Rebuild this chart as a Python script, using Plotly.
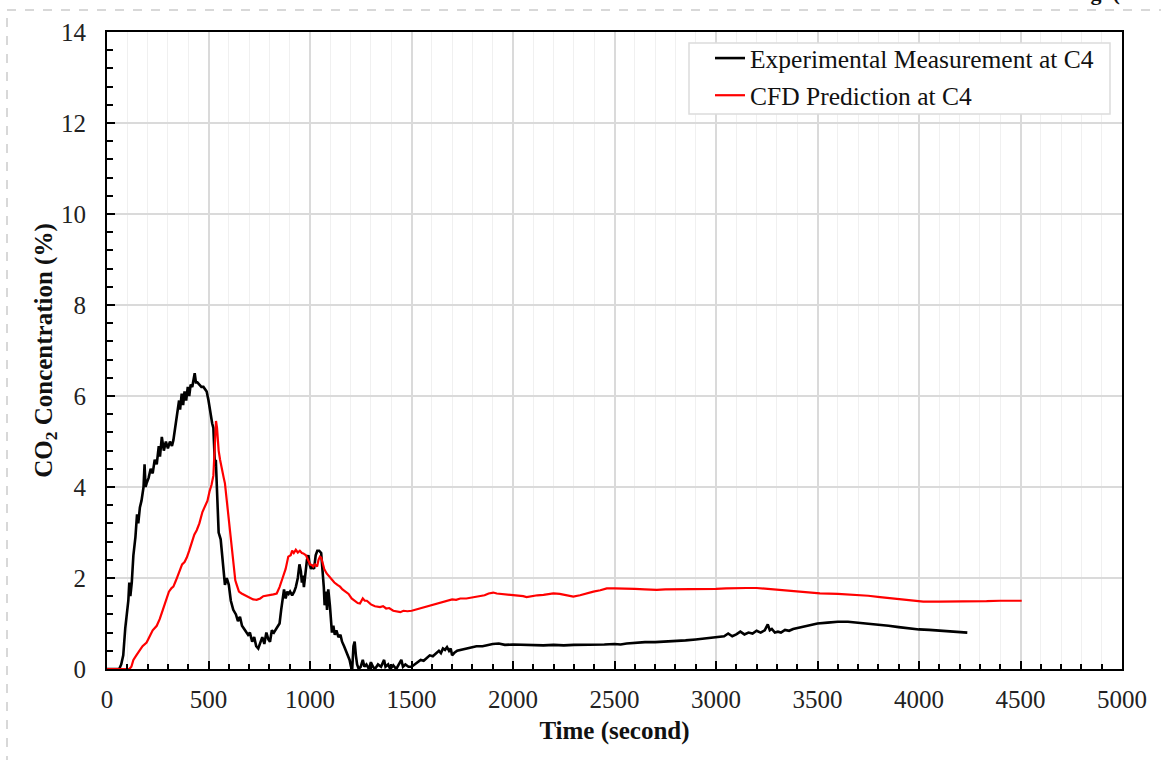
import plotly.graph_objects as go

# Experimental CO2 concentration at sensor C4 (time in s, concentration in %)
exp_time = [0, 60, 70, 80, 90, 97, 105, 110, 115, 122, 130, 140, 148, 154, 162, 170, 180, 185, 190, 195,
            205, 215, 225, 235, 245, 255, 261, 270, 280, 290, 300, 310, 320, 327, 335, 345, 355, 360, 368, 375,
            382, 390, 398, 405, 412, 420, 428, 432, 438, 445, 455, 465, 475, 485, 491, 500, 510, 518, 524, 528,
            532, 536, 540, 545, 550, 560, 568, 575, 581, 590, 600, 610, 622, 635, 645, 655, 665, 680, 695, 704,
            715, 725, 735, 745, 754, 765, 775, 785, 795, 803, 812, 822, 836, 850, 858, 865, 872, 880, 888, 895,
            902, 912, 922, 930, 940, 948, 955, 960, 965, 970, 978, 985, 992, 998, 1005, 1012, 1020, 1028, 1036, 1045,
            1055, 1062, 1068, 1072, 1078, 1084, 1090, 1098, 1104, 1108, 1115, 1122, 1130, 1140, 1150, 1158, 1168, 1178, 1188, 1195,
            1202, 1208, 1214, 1220, 1226, 1232, 1240, 1250, 1260, 1268, 1278, 1290, 1300, 1310, 1320, 1335, 1350, 1365, 1372, 1385,
            1395, 1410, 1425, 1438, 1450, 1458, 1470, 1485, 1500, 1515, 1530, 1545, 1560, 1575, 1590, 1605, 1620, 1635, 1645, 1655,
            1665, 1675, 1685, 1693, 1700, 1710, 1725, 1745, 1765, 1790, 1820, 1850, 1880, 1900, 1930, 1960, 2000, 2050, 2100, 2150,
            2200, 2250, 2300, 2350, 2400, 2450, 2500, 2530, 2560, 2600, 2650, 2700, 2750, 2800, 2850, 2900, 2950, 3000, 3040, 3060,
            3080, 3100, 3120, 3140, 3160, 3180, 3200, 3220, 3240, 3255, 3265, 3275, 3290, 3305, 3320, 3340, 3360, 3380, 3400, 3450,
            3500, 3550, 3600, 3650, 3700, 3750, 3800, 3850, 3900, 3950, 4000, 4050, 4100, 4150, 4200, 4238]
exp_conc = [0, 0, 0.1, 0.3, 0.9, 1.15, 1.5, 1.9, 1.6, 1.9, 2.5, 2.9, 3.4, 3.2, 3.55, 3.7, 4.0, 4.5, 4.0, 4.08,
            4.2, 4.4, 4.3, 4.6, 4.5, 4.9, 4.67, 5.1, 4.8, 5.0, 4.85, 5.0, 4.9, 5.03, 5.3, 5.6, 5.9, 5.7, 6.05, 5.8,
            6.1, 5.9, 6.2, 6.0, 6.25, 6.2, 6.4, 6.5, 6.3, 6.3, 6.25, 6.2, 6.2, 6.15, 6.1, 5.9, 5.6, 5.4, 5.3, 4.9,
            4.45, 4.6, 4.2, 3.6, 3.0, 2.85, 2.5, 2.1, 1.85, 2.0, 1.85, 1.5, 1.3, 1.2, 1.05, 1.15, 0.95, 0.85, 0.75, 0.8,
            0.6, 0.7, 0.5, 0.45, 0.55, 0.7, 0.55, 0.8, 0.65, 0.6, 0.85, 0.8, 0.9, 1.0, 1.3, 1.6, 1.75, 1.55, 1.7, 1.65,
            1.7, 1.62, 1.7, 1.8, 2.0, 2.3, 2.15, 1.9, 2.05, 1.8, 2.2, 2.4, 2.5, 2.3, 2.2, 2.25, 2.2, 2.5, 2.6, 2.6,
            2.55, 2.2, 1.8, 1.4, 1.7, 1.3, 1.75, 1.4, 1.1, 0.8, 0.95, 0.75, 0.85, 0.7, 0.75, 0.6, 0.5, 0.4, 0.3, 0.2,
            0.05, 0.0, 0.5, 0.6, 0.3, 0.1, 0.0, 0.05, 0.2, 0.05, 0.1, 0.0, 0.15, 0.05, 0.0, 0.1, 0.05, 0.2, 0.05, 0.1,
            0.0, 0.08, 0.0, 0.1, 0.2, 0.05, 0.1, 0.05, 0.05, 0.1, 0.15, 0.2, 0.18, 0.25, 0.3, 0.28, 0.35, 0.4, 0.35, 0.45,
            0.42, 0.48, 0.4, 0.45, 0.3, 0.35, 0.4, 0.42, 0.45, 0.47, 0.5, 0.5, 0.53, 0.55, 0.56, 0.53, 0.54, 0.53, 0.53, 0.52,
            0.53, 0.52, 0.53, 0.53, 0.53, 0.54, 0.55, 0.54, 0.56, 0.58, 0.59, 0.59, 0.6, 0.61, 0.63, 0.65, 0.67, 0.70, 0.72, 0.78,
            0.72, 0.76, 0.82, 0.76, 0.8, 0.78, 0.84, 0.8, 0.85, 0.98, 0.85, 0.88, 0.8, 0.82, 0.8, 0.86, 0.84, 0.88, 0.9, 0.95,
            1.0, 1.02, 1.04, 1.04, 1.02, 1.0, 0.97, 0.95, 0.92, 0.89, 0.87, 0.86, 0.84, 0.83, 0.81, 0.8]

# CFD prediction at sensor C4
cfd_time = [0, 110, 120, 130, 146, 160, 175, 195, 210, 225, 245, 260, 275, 290, 305, 318, 327, 340, 355, 370,
            382, 393, 405, 418, 430, 442, 455, 470, 485, 495, 505, 515, 524, 530, 537, 542, 550, 557, 565, 575,
            581, 590, 598, 606, 615, 625, 632, 639, 650, 663, 680, 700, 720, 737, 755, 770, 787, 805, 820, 836,
            850, 865, 880, 893, 905, 912, 920, 930, 940, 950, 960, 967, 980, 990, 1000, 1010, 1016, 1025, 1035, 1042,
            1049, 1055, 1062, 1070, 1082, 1100, 1120, 1135, 1148, 1160, 1175, 1190, 1205, 1220, 1235, 1246, 1260, 1270, 1280, 1300,
            1320, 1345, 1360, 1375, 1390, 1410, 1427, 1445, 1460, 1480, 1501, 1525, 1550, 1575, 1600, 1625, 1650, 1675, 1700, 1720,
            1740, 1770, 1800, 1837, 1860, 1880, 1903, 1920, 1945, 1970, 2002, 2030, 2050, 2067, 2090, 2120, 2150, 2175, 2199, 2230,
            2260, 2297, 2330, 2360, 2396, 2430, 2462, 2500, 2550, 2600, 2650, 2708, 2750, 2800, 2850, 2900, 2954, 3000, 3050, 3100,
            3150, 3200, 3250, 3315, 3400, 3512, 3600, 3693, 3750, 3808, 3900, 3972, 4021, 4100, 4200, 4300, 4333, 4400, 4506]
cfd_conc = [0, 0, 0.05, 0.2, 0.31, 0.4, 0.5, 0.58, 0.7, 0.85, 0.95, 1.1, 1.3, 1.5, 1.7, 1.78, 1.81, 1.95, 2.15, 2.3,
            2.35, 2.45, 2.6, 2.8, 2.95, 3.05, 3.2, 3.45, 3.6, 3.7, 3.9, 4.05, 4.25, 4.8, 5.45, 5.3, 4.8, 4.6, 4.45, 4.2,
            4.08, 3.7, 3.3, 3.05, 2.6, 2.2, 1.95, 1.85, 1.7, 1.66, 1.62, 1.58, 1.53, 1.52, 1.55, 1.6, 1.61, 1.63, 1.64, 1.66,
            1.8, 2.0, 2.2, 2.47, 2.5, 2.6, 2.55, 2.62, 2.56, 2.6, 2.55, 2.54, 2.5, 2.4, 2.3, 2.28, 2.25, 2.3, 2.25, 2.4,
            2.47, 2.45, 2.3, 2.2, 2.1, 2.0, 1.9, 1.85, 1.81, 1.75, 1.7, 1.65, 1.55, 1.5, 1.45, 1.44, 1.55, 1.5, 1.5, 1.42,
            1.38, 1.36, 1.38, 1.33, 1.34, 1.28, 1.26, 1.25, 1.28, 1.27, 1.28, 1.31, 1.33, 1.36, 1.4, 1.43, 1.46, 1.5, 1.53, 1.52,
            1.55, 1.55, 1.57, 1.59, 1.62, 1.66, 1.68, 1.66, 1.65, 1.64, 1.63, 1.62, 1.6, 1.58, 1.6, 1.62, 1.63, 1.64, 1.66, 1.65,
            1.62, 1.59, 1.62, 1.66, 1.70, 1.73, 1.77, 1.77, 1.77, 1.76, 1.75, 1.74, 1.75, 1.75, 1.75, 1.75, 1.76, 1.76, 1.77, 1.78,
            1.78, 1.78, 1.76, 1.74, 1.71, 1.66, 1.65, 1.63, 1.61, 1.58, 1.53, 1.5, 1.48, 1.48, 1.48, 1.48, 1.49, 1.5, 1.5]

x_tick_vals = [0, 500, 1000, 1500, 2000, 2500, 3000, 3500, 4000, 4500, 5000]
y_tick_vals = [0, 2, 4, 6, 8, 10, 12, 14]

FONT = "Liberation Serif"
W, H = 1161, 760
ML, MR, MT, MB = 107, 39, 32, 91


def px_to_paper_x(px):
    return (px - ML) / (W - ML - MR)


def px_to_paper_y(py):
    return (H - MB - py) / (H - MT - MB)


fig = go.Figure()
fig.add_trace(go.Scatter(
    x=exp_time, y=exp_conc, mode="lines", name="Experimental Measurement at C4",
    line=dict(color="black", width=2.6), legendgroup="a",
))
fig.add_trace(go.Scatter(
    x=cfd_time, y=cfd_conc, mode="lines", name="CFD Prediction at C4",
    line=dict(color="#ff0000", width=2.2), legendgroup="b",
))

axis_common = dict(
    showline=True, linecolor="black", linewidth=2, mirror=True,
    ticks="inside", tickcolor="black", tickwidth=1.5,
    tickfont=dict(family=FONT, size=25, color="#222"),
    zeroline=False,
)

fig.update_xaxes(
    **axis_common,
    range=[0, 5000], tickvals=x_tick_vals, ticklen=8,
    showgrid=True, gridcolor="#dadada", gridwidth=1.5,
    minor=dict(dtick=100, ticks="inside", ticklen=5, tickcolor="black", tickwidth=1.5,
               showgrid=True, gridcolor="#f0f0f0", gridwidth=1),
    ticklabelstandoff=7,
    title=dict(text="<b>Time (second)</b>", font=dict(family=FONT, size=25, color="#111"), standoff=9),
)
fig.update_yaxes(
    **axis_common,
    range=[0, 14], tickvals=y_tick_vals, ticklen=8,
    showgrid=True, gridcolor="#dadada", gridwidth=1.5,
    minor=dict(dtick=0.4, ticks="inside", ticklen=6, tickcolor="black", tickwidth=1.5, showgrid=False),
    ticklabelstandoff=14,
    title=dict(text="<b>CO<sub>2</sub> Concentration (%)</b>", font=dict(family=FONT, size=25, color="#111"),
               standoff=1),
)

dash_x = px_to_paper_x(7)
dash_y = px_to_paper_y(10)
fig.update_layout(
    width=W, height=H,
    margin=dict(l=ML, r=MR, t=MT, b=MB),
    paper_bgcolor="white", plot_bgcolor="white",
    font=dict(family=FONT, size=25, color="#111"),
    showlegend=True,
    legend=dict(
        x=px_to_paper_x(710), y=px_to_paper_y(35), xanchor="left", yanchor="top",
        bgcolor="rgba(0,0,0,0)", bordercolor="rgba(0,0,0,0)", borderwidth=0,
        font=dict(family=FONT, size=25.5, color="#111"),
        tracegroupgap=1, itemwidth=30,
    ),
    shapes=[
        # legend frame
        dict(type="rect", xref="paper", yref="paper", layer="above",
             x0=px_to_paper_x(689), x1=px_to_paper_x(1110), y0=px_to_paper_y(114), y1=px_to_paper_y(43),
             fillcolor="white", line=dict(color="#dcdcdc", width=1.5)),
        # dashed page frame
        dict(type="line", xref="paper", yref="paper", x0=dash_x, x1=dash_x, y0=px_to_paper_y(H + 5), y1=dash_y,
             line=dict(color="#cccccc", width=1.5, dash="dash")),
        dict(type="line", xref="paper", yref="paper", x0=dash_x, x1=px_to_paper_x(W + 5), y0=dash_y, y1=dash_y,
             line=dict(color="#cccccc", width=1.5, dash="dash")),
    ],
    annotations=[
        dict(text="<b>Fig. (</b>", xref="paper", yref="paper", x=px_to_paper_x(1069), y=px_to_paper_y(7),
             xanchor="left", yanchor="bottom", showarrow=False, font=dict(family=FONT, size=22, color="#111")),
    ],
)

fig.write_html("out.html")
